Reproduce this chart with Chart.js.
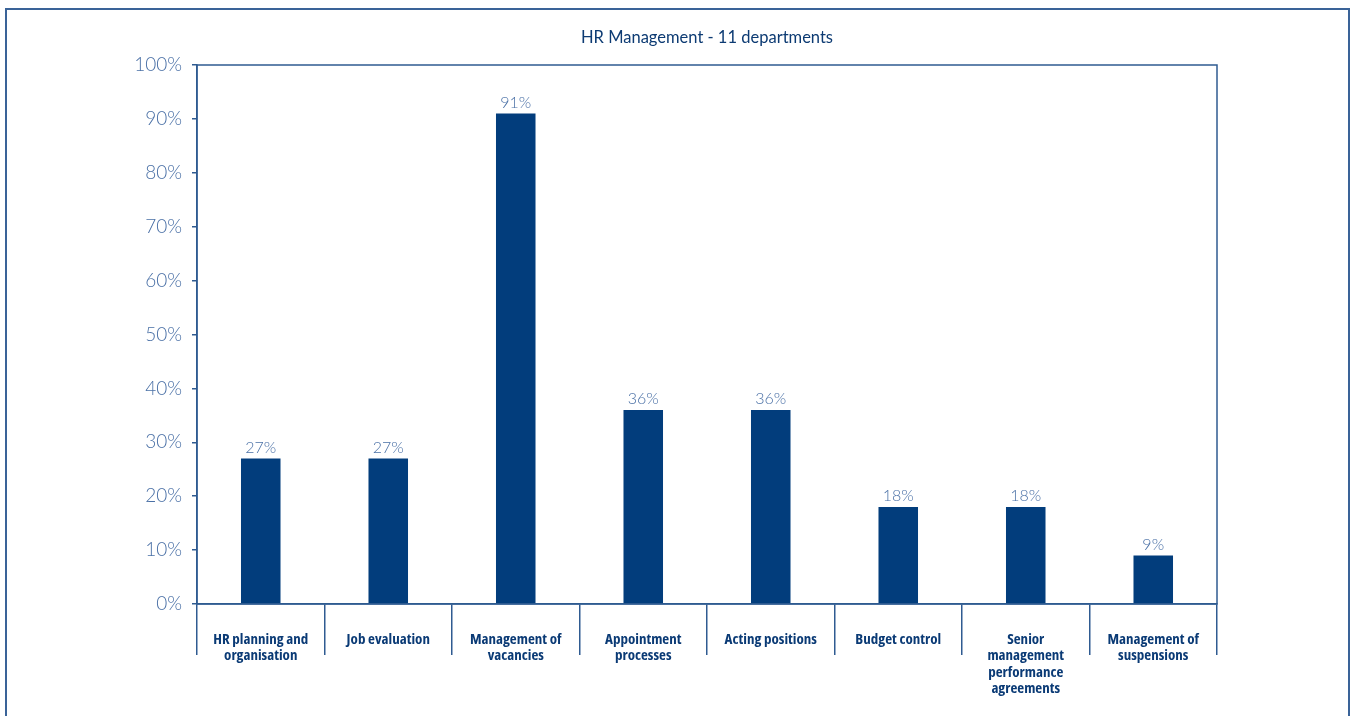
<!DOCTYPE html>
<html><head><meta charset="utf-8">
<script src="https://cdn.jsdelivr.net/npm/chart.js@4"></script>
<style>html,body{margin:0;padding:0;background:#fff;}#wrap{width:1354px;height:716px;position:relative;}</style>
</head><body><div id="wrap"><canvas id="c" width="1354" height="716"></canvas></div>
<script>
const categories = [
  ["HR planning and","organisation"],
  ["Job evaluation"],
  ["Management of","vacancies"],
  ["Appointment","processes"],
  ["Acting positions"],
  ["Budget control"],
  ["Senior","management","performance","agreements"],
  ["Management of","suspensions"]
];
const values = [27, 27, 91, 36, 36, 18, 18, 9];
const yTicks = [0,10,20,30,40,50,60,70,80,90,100];
const titleText = "HR Management - 11 departments";

const NAVY = '#023d7c';
const AXIS = '#2f5b91';
const LIGHT = '#4a70a6';
const THIN = "Lato, 'Open Sans', sans-serif";
const BOLDC = "'Open Sans', 'DejaVu Sans Condensed', sans-serif";

const decor = {
  id:'decor',
  beforeDraw(chart){
    const ctx = chart.ctx;
    ctx.save();
    ctx.strokeStyle = '#3a6398';
    ctx.lineWidth = 2;
    ctx.strokeRect(6, 9, 1343, 760);
    ctx.restore();
  },
  afterDatasetsDraw(chart){
    const ctx = chart.ctx, a = chart.chartArea;
    ctx.save();
    ctx.strokeStyle = AXIS;
    ctx.lineWidth = 1.5;
    ctx.strokeRect(a.left, a.top, a.right - a.left, a.bottom - a.top);
    const meta = chart.getDatasetMeta(0);
    ctx.fillStyle = LIGHT;
    ctx.font = "300 16px " + THIN;
    ctx.textAlign = 'center';
    ctx.textBaseline = 'bottom';
    meta.data.forEach((bar, i) => {
      ctx.fillText(values[i] + '%', bar.x, bar.y - 3);
    });
    ctx.fillStyle = '#0d3b73';
    ctx.font = "16.5px " + THIN;
    ctx.textBaseline = 'middle';
    ctx.fillText(titleText, (a.left + a.right) / 2, 38);
    ctx.restore();
  }
};

new Chart(document.getElementById('c'), {
  type: 'bar',
  data: {
    labels: categories,
    datasets: [{ data: values, backgroundColor: NAVY, barPercentage: 0.31, categoryPercentage: 1 }]
  },
  options: {
    responsive: false,
    animation: false,
    layout: { padding: { left: 0, right: 137, top: 65, bottom: 0 } },
    plugins: { legend: { display: false }, tooltip: { enabled: false }, title: { display: false } },
    scales: {
      x: {
        offset: true,
        grid: { offset: true, drawOnChartArea: false, drawTicks: true, tickLength: 51, color: AXIS, lineWidth: 1.5 },
        border: { display: true, color: AXIS, width: 1.5 },
        ticks: { color: '#0a3a75', padding: -24, maxRotation: 0, autoSkip: false,
                 font: { family: BOLDC, size: 15, weight: 'bold condensed', lineHeight: 1.1 } },
        afterFit(s){ s.height = 112; }
      },
      y: {
        min: 0, max: 100,
        afterBuildTicks(s){ s.ticks = yTicks.map(v => ({ value: v })); },
        grid: { drawOnChartArea: false, drawTicks: true, tickLength: 5, color: AXIS, lineWidth: 1.5 },
        border: { display: true, color: AXIS, width: 1.5 },
        ticks: { color: LIGHT, padding: 10, callback: v => v + '%',
                 font: { family: THIN, size: 19, weight: '300' } },
        afterFit(s){ s.width = 197; }
      }
    }
  },
  plugins: [decor]
});
</script></body></html>
